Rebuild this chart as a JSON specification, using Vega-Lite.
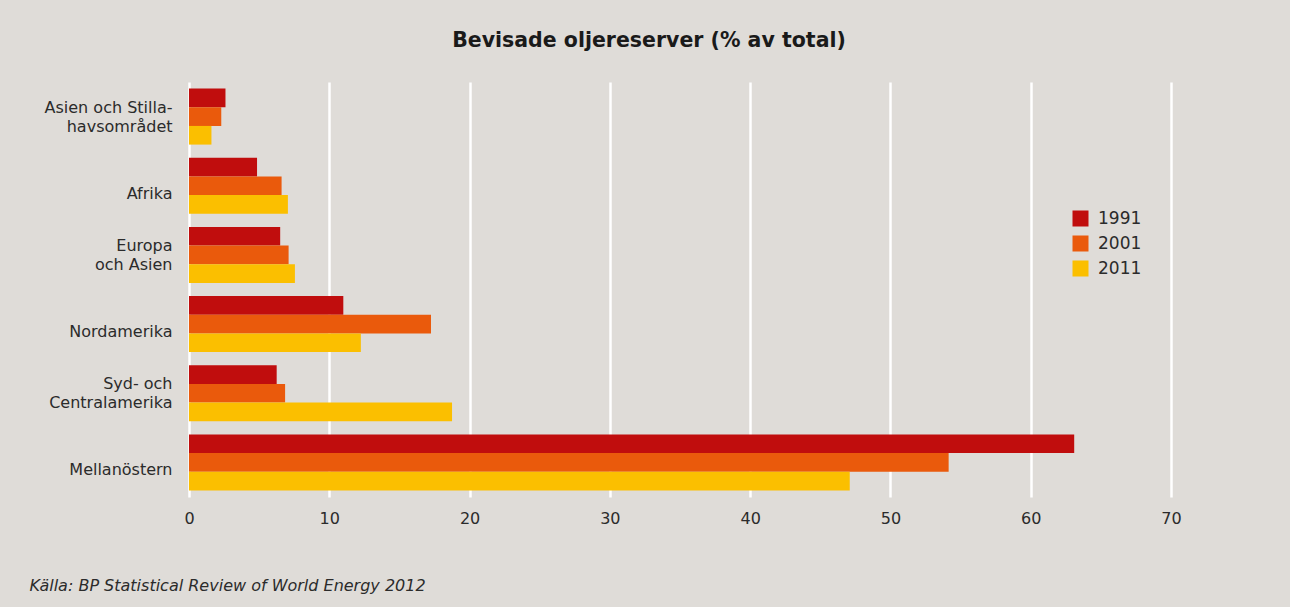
{
  "$schema": "https://vega.github.io/schema/vega-lite/v6.json",
  "width": 982,
  "height": 415,
  "autosize": {"type": "none"},
  "padding": {"left": 189, "top": 82, "right": 119, "bottom": 110},
  "background": "#dfdcd8",
  "title": {
    "text": "Bevisade oljereserver (% av total)",
    "font": "DejaVu Sans",
    "fontSize": 20.5,
    "fontWeight": "bold",
    "color": "#1a1a1a",
    "anchor": "middle",
    "dx": -31,
    "baseline": "alphabetic",
    "offset": 15
  },
  "data": {
    "values": [
      {"region": "Asien och Stilla-|havsområdet", "year": "1991", "value": 2.6},
      {"region": "Asien och Stilla-|havsområdet", "year": "2001", "value": 2.3},
      {"region": "Asien och Stilla-|havsområdet", "year": "2011", "value": 1.6},
      {"region": "Afrika", "year": "1991", "value": 4.85},
      {"region": "Afrika", "year": "2001", "value": 6.6},
      {"region": "Afrika", "year": "2011", "value": 7.05},
      {"region": "Europa|och Asien", "year": "1991", "value": 6.5},
      {"region": "Europa|och Asien", "year": "2001", "value": 7.1},
      {"region": "Europa|och Asien", "year": "2011", "value": 7.55},
      {"region": "Nordamerika", "year": "1991", "value": 11.0},
      {"region": "Nordamerika", "year": "2001", "value": 17.25},
      {"region": "Nordamerika", "year": "2011", "value": 12.25},
      {"region": "Syd- och|Centralamerika", "year": "1991", "value": 6.25},
      {"region": "Syd- och|Centralamerika", "year": "2001", "value": 6.85},
      {"region": "Syd- och|Centralamerika", "year": "2011", "value": 18.75},
      {"region": "Mellanöstern", "year": "1991", "value": 63.1},
      {"region": "Mellanöstern", "year": "2001", "value": 54.15},
      {"region": "Mellanöstern", "year": "2011", "value": 47.1}
    ]
  },
  "mark": {"type": "bar"},
  "encoding": {
    "y": {
      "field": "region",
      "type": "nominal",
      "sort": null,
      "scale": {"paddingInner": 0.19, "paddingOuter": 0.095},
      "axis": {
        "title": null,
        "domain": false,
        "ticks": false,
        "grid": false,
        "labelExpr": "split(datum.label, '|')",
        "labelFont": "DejaVu Sans",
        "labelFontSize": 16,
        "labelColor": "#2b2b2b",
        "labelPadding": 17,
        "labelLineHeight": 19,
        "labelOffset": {"condition": {"test": "indexof(datum.value, '|') >= 0", "value": -9}, "value": 8}
      }
    },
    "yOffset": {"field": "year", "type": "nominal", "sort": ["1991", "2001", "2011"], "scale": {"paddingInner": 0, "paddingOuter": 0}},
    "x": {
      "field": "value",
      "type": "quantitative",
      "scale": {"domain": [0, 70], "nice": false},
      "axis": {
        "values": [0, 10, 20, 30, 40, 50, 60, 70],
        "domain": false,
        "ticks": false,
        "grid": true,
        "gridColor": "#ffffff",
        "gridWidth": 2.5,
        "gridOpacity": 1,
        "labelFlush": false,
        "labelFont": "DejaVu Sans",
        "labelFontSize": 16,
        "labelColor": "#2b2b2b",
        "labelPadding": 13,
        "title": "Källa: BP Statistical Review of World Energy 2012",
        "titleFont": "DejaVu Sans",
        "titleFontSize": 16,
        "titleFontStyle": "italic",
        "titleFontWeight": "normal",
        "titleColor": "#2b2b2b",
        "titleAnchor": "start",
        "titleAlign": "left",
        "titleX": -160,
        "titleY": 93,
        "titleBaseline": "alphabetic"
      }
    },
    "color": {
      "field": "year",
      "type": "nominal",
      "scale": {"domain": ["1991", "2001", "2011"], "range": ["#c00d0d", "#ea5a0c", "#fbbf00"]},
      "legend": {
        "title": null,
        "orient": "none",
        "legendX": 883,
        "legendY": 128,
        "symbolType": "square",
        "symbolSize": 256,
        "symbolStrokeWidth": 0,
        "symbolOpacity": 1,
        "labelFont": "DejaVu Sans",
        "labelFontSize": 17,
        "labelColor": "#2b2b2b",
        "labelOffset": 9,
        "rowPadding": 7
      }
    }
  },
  "config": {
    "view": {"stroke": null},
    "axis": {"gridCap": "butt"}
  }
}
